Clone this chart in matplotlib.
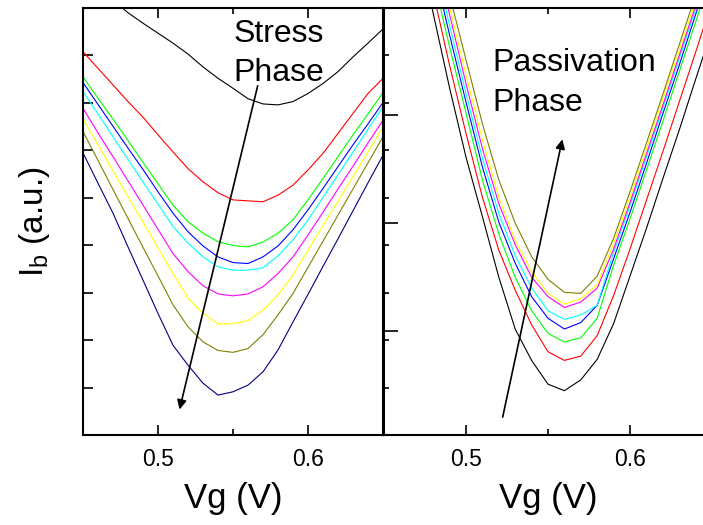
import matplotlib
matplotlib.use("Agg")
import matplotlib.pyplot as plt

plt.rcParams['font.family'] = ['Liberation Sans', 'DejaVu Sans']
plt.rcParams['mathtext.fontset'] = 'custom'
plt.rcParams['mathtext.rm'] = 'Liberation Sans'

# gate voltage (V)
vg = [0.45, 0.46, 0.47, 0.48, 0.49, 0.50, 0.51, 0.52, 0.53, 0.54, 0.55,
      0.56, 0.57, 0.58, 0.59, 0.60, 0.61, 0.62, 0.63, 0.64, 0.65]

# stress phase, Ib in a.u.
stress_black = [9.65, 9.40, 9.16, 8.89, 8.67, 8.46, 8.25, 8.02, 7.75, 7.51, 7.30, 7.08, 6.97, 6.95, 7.02, 7.19, 7.40, 7.65, 7.96, 8.25, 8.55]
stress_red = [8.07, 7.72, 7.37, 7.02, 6.69, 6.32, 5.96, 5.61, 5.33, 5.10, 4.95, 4.93, 4.91, 5.05, 5.26, 5.58, 5.93, 6.35, 6.77, 7.19, 7.51]
stress_green = [7.54, 7.09, 6.65, 6.20, 5.74, 5.29, 4.84, 4.49, 4.25, 4.07, 3.99, 3.96, 4.06, 4.25, 4.53, 4.95, 5.40, 5.86, 6.32, 6.76, 7.21]
stress_blue = [7.42, 6.96, 6.50, 6.04, 5.59, 5.12, 4.67, 4.28, 3.98, 3.75, 3.63, 3.61, 3.75, 3.98, 4.32, 4.74, 5.19, 5.65, 6.11, 6.55, 7.00]
stress_cyan = [7.23, 6.76, 6.28, 5.80, 5.33, 4.86, 4.39, 4.04, 3.75, 3.54, 3.47, 3.47, 3.52, 3.77, 4.11, 4.53, 5.00, 5.48, 5.96, 6.44, 6.91]
stress_magenta = [6.88, 6.36, 5.86, 5.35, 4.84, 4.33, 3.82, 3.44, 3.14, 2.97, 2.93, 2.97, 3.12, 3.40, 3.75, 4.21, 4.69, 5.18, 5.66, 6.15, 6.63]
stress_yellow = [6.65, 6.11, 5.56, 5.02, 4.48, 3.94, 3.40, 2.88, 2.56, 2.34, 2.34, 2.41, 2.63, 2.95, 3.37, 3.89, 4.41, 4.92, 5.44, 5.96, 6.48]
stress_olive = [6.39, 5.78, 5.17, 4.56, 3.95, 3.35, 2.74, 2.28, 1.96, 1.78, 1.74, 1.82, 2.11, 2.53, 2.98, 3.53, 4.08, 4.63, 5.18, 5.73, 6.28]
stress_navy = [5.94, 5.30, 4.67, 3.96, 3.26, 2.56, 1.89, 1.47, 1.09, 0.84, 0.91, 1.05, 1.33, 1.79, 2.38, 2.96, 3.55, 4.13, 4.72, 5.31, 5.89]

# passivation phase, Ib in a.u.
pass_black = [5.98, 5.30, 4.62, 3.94, 3.25, 2.61, 2.06, 1.50, 1.02, 0.73, 0.51, 0.45, 0.55, 0.74, 1.07, 1.51, 1.95, 2.41, 2.86, 3.33, 3.79]
pass_red = [6.16, 5.48, 4.81, 4.13, 3.46, 2.83, 2.24, 1.75, 1.38, 1.06, 0.81, 0.73, 0.77, 0.96, 1.33, 1.76, 2.21, 2.66, 3.12, 3.58, 4.05]
pass_green = [6.23, 5.58, 4.93, 4.28, 3.63, 3.02, 2.40, 1.90, 1.50, 1.19, 0.98, 0.90, 0.94, 1.12, 1.61, 2.04, 2.49, 2.94, 3.40, 3.86, 4.32]
pass_blue = [6.33, 5.69, 5.04, 4.39, 3.74, 3.12, 2.52, 2.01, 1.63, 1.32, 1.12, 1.02, 1.08, 1.24, 1.67, 2.10, 2.55, 3.01, 3.46, 3.93, 4.39]
pass_cyan = [6.43, 5.78, 5.13, 4.48, 3.83, 3.20, 2.60, 2.09, 1.70, 1.40, 1.19, 1.11, 1.15, 1.24, 1.73, 2.16, 2.61, 3.06, 3.52, 3.98, 4.44]
pass_magenta = [6.52, 5.87, 5.22, 4.57, 3.93, 3.29, 2.69, 2.18, 1.80, 1.50, 1.32, 1.22, 1.27, 1.40, 1.76, 2.19, 2.64, 3.09, 3.55, 4.01, 4.48]
pass_yellow = [6.60, 5.95, 5.30, 4.65, 4.00, 3.37, 2.77, 2.24, 1.84, 1.55, 1.35, 1.25, 1.30, 1.43, 1.81, 2.24, 2.69, 3.15, 3.60, 4.06, 4.53]
pass_olive = [6.64, 5.99, 5.35, 4.70, 4.11, 3.51, 2.92, 2.40, 2.00, 1.69, 1.48, 1.36, 1.35, 1.51, 1.86, 2.29, 2.74, 3.19, 3.65, 4.11, 4.57]

stress_curves = [stress_black, stress_red, stress_green, stress_blue, stress_cyan,
                 stress_magenta, stress_yellow, stress_olive, stress_navy]
pass_curves = [pass_black, pass_red, pass_green, pass_blue, pass_cyan,
               pass_magenta, pass_yellow, pass_olive]
colors = ["#000000", "#ff0000", "#00ff00", "#0000ff", "#00ffff",
          "#ff00ff", "#ffff00", "#808000", "#000080"]

fig = plt.figure(figsize=(7.03, 5.25), dpi=100)
ax1 = fig.add_axes([83 / 703, 90 / 525, 300 / 703, 427 / 525])
ax2 = fig.add_axes([384 / 703, 90 / 525, 328 / 703, 427 / 525])
ax2.patch.set_visible(False)

for c, col in zip(stress_curves, colors):
    ax1.plot(vg, c, color=col, lw=0.8)
for c, col in zip(pass_curves, colors):
    ax2.plot(vg, c, color=col, lw=0.8)

ax1.set_xlim(0.45, 0.65)
ax1.set_ylim(0, 8.99)
ax2.set_xlim(0.45, 0.65)
ax2.set_ylim(0.04, 3.99)

for ax in (ax1, ax2):
    for s in ax.spines.values():
        s.set_linewidth(1.5)
    ax.set_xticks([0.5, 0.6])
    ax.set_xticklabels(["0.5", "0.6"])
    ax.set_xticks([0.55, 0.65], minor=True)
    ax.tick_params(axis='x', which='major', direction='in', length=7, width=1.2,
                   top=True, labelsize=16.5, pad=9)
    ax.tick_params(axis='x', which='minor', direction='in', length=4, width=1.2, top=True)
    ax.set_xlabel("Vg (V)", fontsize=25, labelpad=8)

ax1.set_yticks(range(1, 9))
ax1.tick_params(axis='y', direction='in', length=7, width=1.2, labelleft=False, right=False)
# short ticks on the shared edge, pointing into the right panel
sec = ax1.secondary_yaxis('right')
sec.set_yticks(range(1, 9))
sec.tick_params(axis='y', direction='out', length=4, width=1.2, labelright=False)
ax1.set_ylabel("I$_\\mathregular{b}$ (a.u.)", fontsize=24, labelpad=22)

ax2.set_yticks([1, 2, 3])
ax2.tick_params(axis='y', direction='in', length=10, width=1.2, labelleft=False)

ax1.text(0.5503, 8.76, "Stress\nPhase", fontsize=23, va='top', ha='left', linespacing=1.38)
ax1.annotate("", xy=(0.5139, 0.48), xytext=(0.5669, 7.41),
             arrowprops=dict(arrowstyle="-|>", color="black", lw=1.2, mutation_scale=14))

ax2.text(0.5159, 3.62, "Passivation\nPhase", fontsize=23, va='top', ha='left', linespacing=1.42)
ax2.annotate("", xy=(0.5591, 2.80), xytext=(0.522, 0.18),
             arrowprops=dict(arrowstyle="-|>", color="black", lw=1.2, mutation_scale=14))

plt.savefig("out.png", dpi=100)
